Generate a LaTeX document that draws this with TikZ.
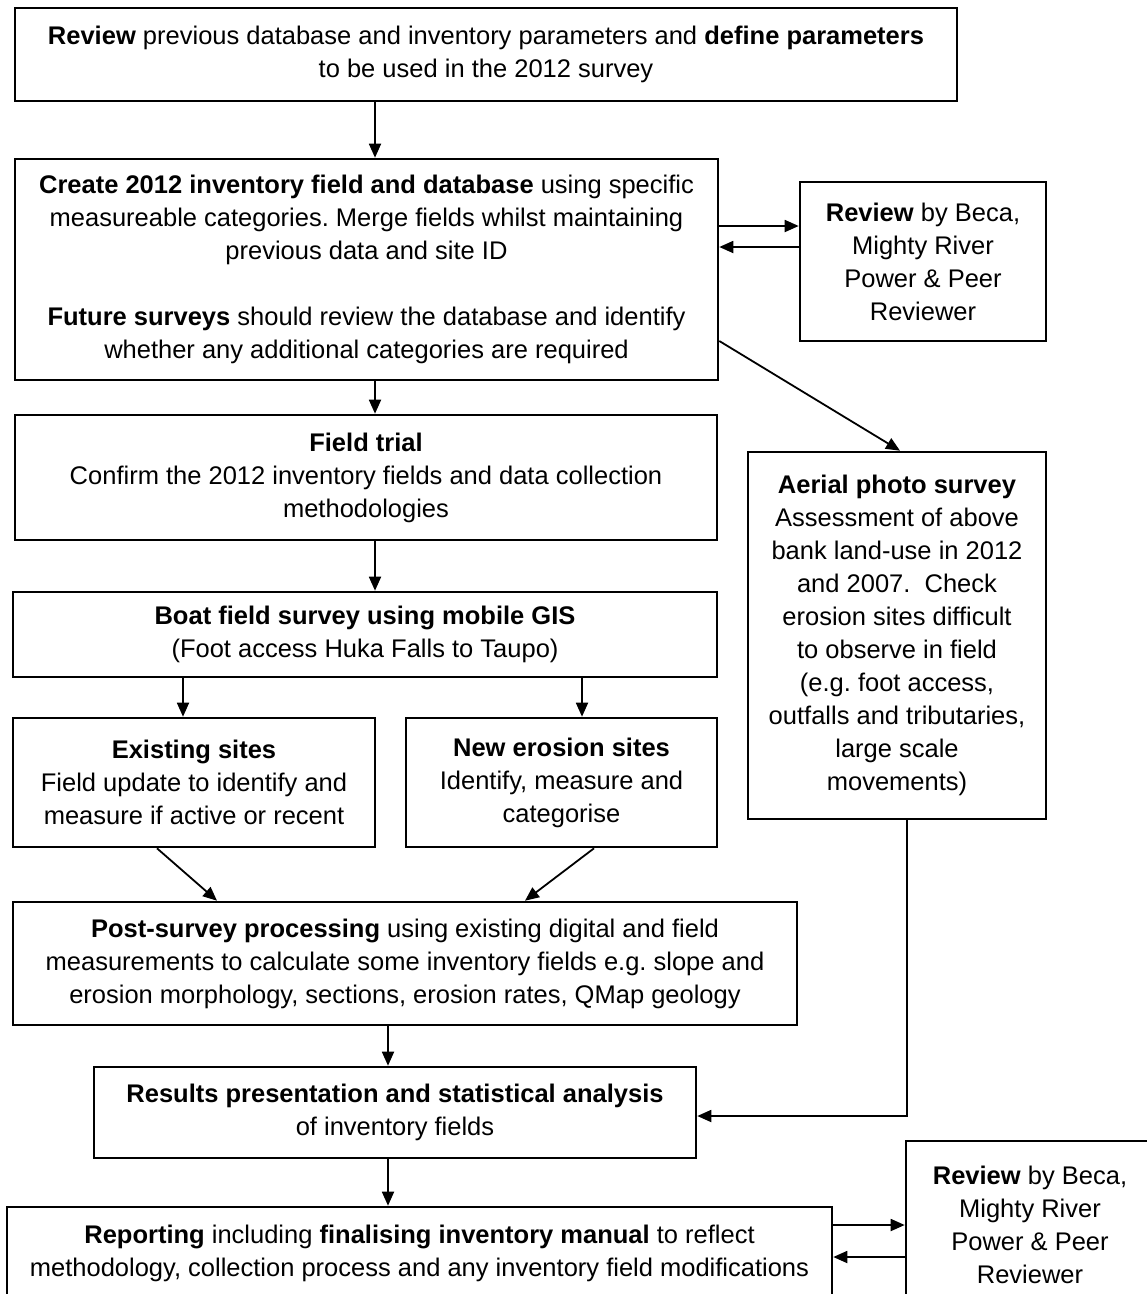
\documentclass[tikz,border=0pt]{standalone}
\usepackage{fontspec}
\setmainfont{Liberation Sans}
\usetikzlibrary{arrows.meta}
\frenchspacing
\begin{document}
\begin{tikzpicture}[x=1pt,y=-1pt,
  box/.style={draw, line width=2.6pt, align=center, inner sep=0pt,
    font=\fontsize{25.5pt}{33pt}\selectfont\frenchspacing},
  arr/.style={line width=1.8pt, -{Triangle[length=14pt,width=12pt]}}]
\useasboundingbox (0,0) rectangle (1147,1294);
\clip (0,0) rectangle (1147,1294);
\node[box, minimum width=942pt, minimum height=93pt] (top) at (486,54.5)
  {\textbf{Review} previous database and inventory parameters and \textbf{define parameters}\\to be used in the 2012 survey};
\node[box, minimum width=703pt, minimum height=221pt] (create) at (366.5,269.5)
  {\textbf{Create 2012 inventory field and database} using specific\\measureable categories. Merge fields whilst maintaining\\previous data and site ID\\[33pt]\textbf{Future surveys} should review the database and identify\\whether any additional categories are required};
\node[box, minimum width=246pt, minimum height=159pt] (rev1) at (923,261.5)
  {\textbf{Review} by Beca,\\Mighty River\\Power \& Peer\\Reviewer};
\node[box, minimum width=702pt, minimum height=125pt] (field) at (366,477.5)
  {\textbf{Field trial}\\Confirm the 2012 inventory fields and data collection\\methodologies};
\node[box, minimum width=298pt, minimum height=367pt] (aerial) at (897,635.5)
  {\textbf{Aerial photo survey}\\Assessment of above\\bank land-use in 2012\\and 2007.\ \ Check\\erosion sites difficult\\to observe in field\\(e.g. foot access,\\outfalls and tributaries,\\large scale\\movements)};
\node[box, minimum width=704pt, minimum height=85pt] (boat) at (365,634.5)
  {\textbf{Boat field survey using mobile GIS}\\(Foot access Huka Falls to Taupo)};
\node[box, minimum width=362pt, minimum height=129pt] (exist) at (194,782.5)
  {\textbf{Existing sites}\\Field update to identify and\\measure if active or recent};
\node[box, minimum width=311pt, minimum height=129pt] (new) at (561.5,782.5)
  {\textbf{New erosion sites}\\Identify, measure and\\categorise};
\node[box, minimum width=784pt, minimum height=123pt] (post) at (405,963.5)
  {\textbf{Post-survey processing} using existing digital and field\\measurements to calculate some inventory fields e.g. slope and\\erosion morphology, sections, erosion rates, QMap geology};
\node[box, minimum width=602pt, minimum height=91pt] (results) at (395,1112.5)
  {\textbf{Results presentation and statistical analysis}\\of inventory fields};
\node[box, minimum width=825pt, minimum height=93pt] (report) at (419.5,1253.5)
  {\textbf{Reporting} including \textbf{finalising inventory manual} to reflect\\methodology, collection process and any inventory field modifications};
\node[box, minimum width=248pt, minimum height=168pt] (rev2) at (1030,1225)
  {\textbf{Review} by Beca,\\Mighty River\\Power \& Peer\\Reviewer};
% connectors
\draw[arr] (top.south -| 375,0) -- (create.north -| 375,0);
\draw[arr] (create.east |- 0,226) -- (rev1.west |- 0,226);
\draw[arr] (rev1.west |- 0,247) -- (create.east |- 0,247);
\draw[arr] (create.east |- 0,341) -- (aerial.north -| 900,0);
\draw[arr] (create.south -| 375,0) -- (field.north -| 375,0);
\draw[arr] (field.south -| 375,0) -- (boat.north -| 375,0);
\draw[arr] (boat.south -| 183,0) -- (exist.north -| 183,0);
\draw[arr] (boat.south -| 582,0) -- (new.north -| 582,0);
\draw[arr] (exist.south -| 157,0) -- (post.north -| 217,0);
\draw[arr] (new.south -| 594,0) -- (post.north -| 525,0);
\draw[arr] (post.south -| 388,0) -- (results.north -| 388,0);
\draw[arr] (aerial.south -| 907,0) |- (results.east |- 0,1116);
\draw[arr] (results.south -| 388,0) -- (report.north -| 388,0);
\draw[arr] (report.east |- 0,1225) -- (rev2.west |- 0,1225);
\draw[arr] (rev2.west |- 0,1257) -- (report.east |- 0,1257);
\end{tikzpicture}
\end{document}
